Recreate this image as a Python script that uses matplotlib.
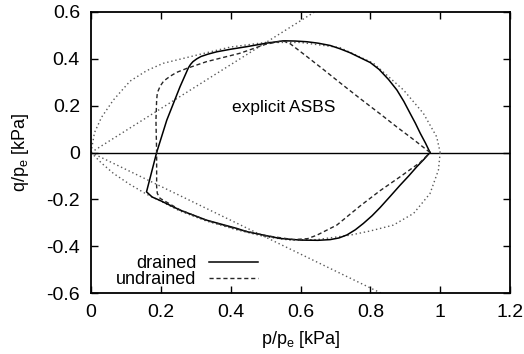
import matplotlib
matplotlib.use("Agg")
import matplotlib.pyplot as plt

plt.rcParams['font.family'] = ['Liberation Sans', 'DejaVu Sans']
plt.rcParams['mathtext.fontset'] = 'custom'
plt.rcParams['mathtext.rm'] = 'Liberation Sans'
plt.rcParams['mathtext.it'] = 'Liberation Sans:italic'

# ---- data ----
# bounding surface (dotted), upper branch then lower branch
ell_up_p = [0.0, 0.01, 0.03, 0.064, 0.112, 0.16, 0.207, 0.303, 0.398, 0.5, 0.6, 0.713, 0.809, 0.895, 0.952, 0.99, 1.0]
ell_up_q = [0.0, 0.085, 0.15, 0.224, 0.305, 0.35, 0.381, 0.416, 0.45, 0.47, 0.47, 0.448, 0.381, 0.267, 0.167, 0.067, 0.0]
ell_lo_p = [1.0, 0.995, 0.971, 0.924, 0.866, 0.8, 0.742, 0.647, 0.57, 0.5, 0.417, 0.331, 0.255, 0.2, 0.159, 0.11, 0.064, 0.03, 0.0]
ell_lo_q = [0.0, -0.075, -0.175, -0.26, -0.31, -0.335, -0.353, -0.372, -0.374, -0.36, -0.33, -0.293, -0.25, -0.208, -0.178, -0.135, -0.089, -0.045, 0.0]

# critical state lines (dotted)
csl_c_p = [0.0, 0.64]
csl_c_q = [0.0, 0.6]
csl_e_p = [0.0, 0.83]
csl_e_q = [0.0, -0.6]

# drained path (solid)
drained_p = [0.971, 0.958, 0.943, 0.929, 0.914, 0.896, 0.876, 0.852, 0.825, 0.8, 0.771, 0.742, 0.713,
             0.685, 0.65, 0.618, 0.585, 0.551, 0.503, 0.446, 0.4, 0.36, 0.335, 0.315, 0.303, 0.292,
             0.285, 0.279, 0.255, 0.217, 0.188, 0.159, 0.175, 0.198, 0.255, 0.331, 0.417, 0.446, 0.541,
             0.6, 0.65, 0.685, 0.71, 0.733, 0.757, 0.78, 0.805, 0.828, 0.857, 0.885, 0.91, 0.933, 0.953, 0.971]
drained_q = [0.0, 0.04, 0.082, 0.125, 0.167, 0.218, 0.267, 0.312, 0.355, 0.384, 0.405, 0.426, 0.443,
             0.457, 0.467, 0.473, 0.476, 0.477, 0.467, 0.452, 0.441, 0.43, 0.42, 0.41, 0.4, 0.388,
             0.376, 0.362, 0.281, 0.138, 0.0, -0.168, -0.19, -0.205, -0.246, -0.289, -0.324, -0.338, -0.367,
             -0.374, -0.375, -0.372, -0.365, -0.352, -0.33, -0.303, -0.27, -0.235, -0.187, -0.14, -0.1, -0.061, -0.03, 0.0]

# undrained path (dashed)
undrained_p = [0.971, 0.924, 0.875, 0.828, 0.771, 0.713, 0.666, 0.618, 0.57, 0.55, 0.5, 0.427, 0.331,
               0.274, 0.245, 0.226, 0.208, 0.198, 0.19, 0.188, 0.186, 0.188, 0.188, 0.19, 0.198, 0.22,
               0.255, 0.331, 0.417, 0.5, 0.58, 0.62, 0.647, 0.704, 0.771, 0.828, 0.885, 0.943, 0.971]
undrained_q = [0.0, 0.055, 0.11, 0.165, 0.23, 0.298, 0.354, 0.41, 0.465, 0.477, 0.462, 0.424, 0.388,
               0.359, 0.342, 0.325, 0.305, 0.283, 0.255, 0.224, 0.138, 0.0, -0.147, -0.175, -0.196, -0.215,
               -0.245, -0.29, -0.327, -0.355, -0.372, -0.368, -0.353, -0.31, -0.228, -0.163, -0.104, -0.042, 0.0]

xticks = [0, 0.2, 0.4, 0.6, 0.8, 1, 1.2]
xticklabels = ['0', '0.2', '0.4', '0.6', '0.8', '1', '1.2']
yticks = [-0.6, -0.4, -0.2, 0, 0.2, 0.4, 0.6]
yticklabels = ['-0.6', '-0.4', '-0.2', '0', '0.2', '0.4', '0.6']

fig = plt.figure(figsize=(5.24, 3.54), dpi=100)
ax = fig.add_axes([91/524, (354-293)/354, (510-91)/524, (293-12)/354])

dot = (0, (1, 2))
gray = '0.35'
ax.axhline(0, color='black', lw=1.0)
ax.plot(ell_up_p, ell_up_q, color=gray, lw=1.0, ls=dot)
ax.plot(ell_lo_p, ell_lo_q, color=gray, lw=1.0, ls=dot)
ax.plot(csl_c_p, csl_c_q, color=gray, lw=1.0, ls=dot)
ax.plot(csl_e_p, csl_e_q, color=gray, lw=1.0, ls=dot)
ax.plot(drained_p, drained_q, color='black', lw=1.1, ls='-', label='drained')
ax.plot(undrained_p, undrained_q, color='0.15', lw=1.0, ls=(0, (3, 2)), label='undrained')

ax.text(0.553, 0.194, 'explicit ASBS', ha='center', va='center', fontsize=12.5)

ax.set_xlim(0, 1.2)
ax.set_ylim(-0.6, 0.6)
ax.set_xticks(xticks)
ax.set_xticklabels(xticklabels)
ax.set_yticks(yticks)
ax.set_yticklabels(yticklabels)
ax.tick_params(direction='in', top=True, right=True, length=5, width=1, labelsize=14, pad=8)
for s in ax.spines.values():
    s.set_linewidth(1.3)

ax.set_xlabel(r'p/p$_\mathrm{e}$ [kPa]', fontsize=13, labelpad=6)
ax.set_ylabel(r'q/p$_\mathrm{e}$ [kPa]', fontsize=13, labelpad=11)

leg = ax.legend(loc='lower right', bbox_to_anchor=(258/524, (354-288)/354), bbox_transform=fig.transFigure,
                frameon=False, markerfirst=False, fontsize=13, handlelength=2.7, handletextpad=0.7,
                labelspacing=-0.05, borderpad=0, borderaxespad=0)

fig.savefig('out.png', dpi=100)
